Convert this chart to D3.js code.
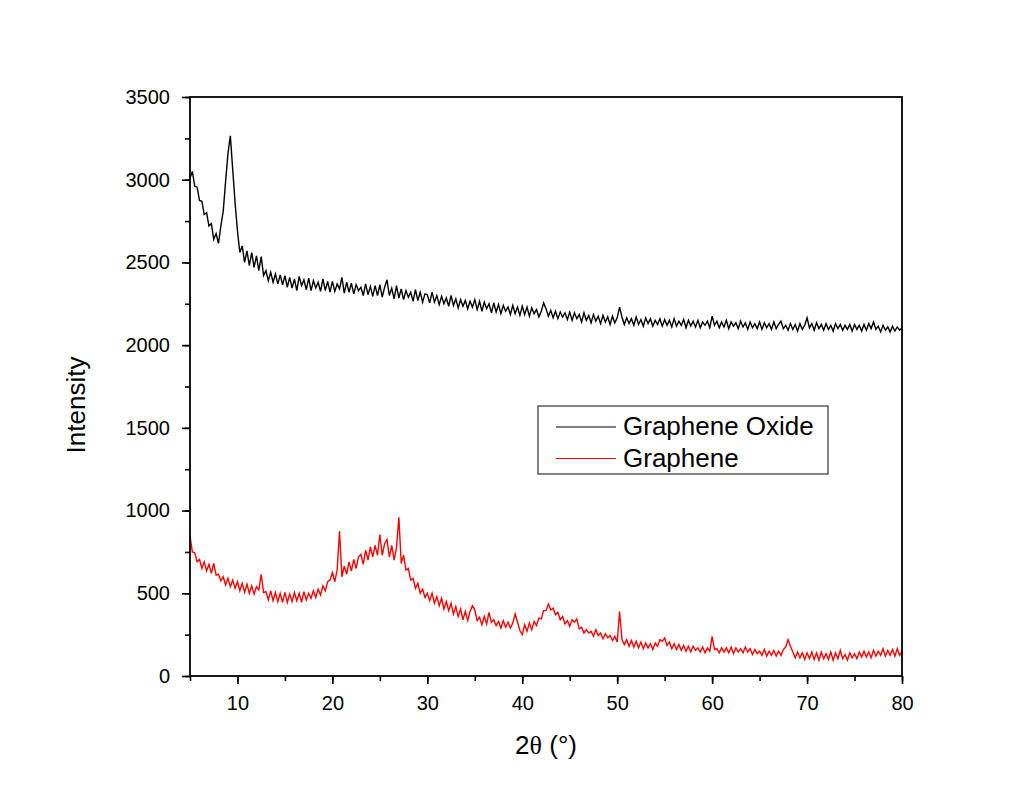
<!DOCTYPE html>
<html>
<head>
<meta charset="utf-8">
<script src="https://cdn.jsdelivr.net/npm/d3@7"></script>
<style>
  body { margin: 0; background: #fff; }
  svg { display: block; font-family: "Liberation Sans", Arial, sans-serif; }
</style>
</head>
<body>
<div id="chart"></div>
<script>
// XRD patterns, 2θ from 5° to 80° sampled every 0.25°
var thetaStart = 5, thetaStep = 0.25;

var goIntensity = [
  3010, 3050, 2960, 2955, 2875, 2870, 2790, 2800, 2720, 2735, 2640, 2675, 2615, 2720, 2810, 2990, 3160, 3265, 3060, 2860,
  2690, 2560, 2600, 2500, 2570, 2480, 2560, 2470, 2540, 2450, 2535, 2420, 2450, 2390, 2440, 2380, 2430, 2370, 2425, 2365,
  2420, 2350, 2410, 2345, 2400, 2330, 2415, 2360, 2395, 2335, 2405, 2330, 2390, 2345, 2380, 2325, 2400, 2330, 2385, 2320,
  2385, 2325, 2370, 2340, 2410, 2315, 2380, 2320, 2375, 2310, 2365, 2330, 2350, 2300, 2370, 2305, 2355, 2295, 2360, 2300,
  2365, 2290, 2350, 2395, 2300, 2345, 2280, 2360, 2285, 2340, 2275, 2330, 2290, 2320, 2265, 2335, 2270, 2320, 2260, 2310,
  2305, 2255, 2320, 2260, 2300, 2245, 2295, 2250, 2285, 2235, 2300, 2240, 2280, 2225, 2275, 2235, 2270, 2220, 2265, 2230,
  2275, 2215, 2265, 2205, 2260, 2220, 2250, 2195, 2255, 2200, 2245, 2190, 2240, 2205, 2230, 2185, 2240, 2190, 2230, 2180,
  2235, 2185, 2230, 2175, 2225, 2190, 2215, 2170, 2205, 2255, 2220, 2175, 2210, 2165, 2205, 2160, 2200, 2170, 2195, 2155,
  2200, 2150, 2195, 2160, 2185, 2140, 2195, 2150, 2180, 2135, 2185, 2145, 2175, 2130, 2180, 2140, 2170, 2125, 2175, 2135,
  2165, 2230, 2170, 2125, 2165, 2130, 2160, 2120, 2170, 2125, 2155, 2115, 2165, 2130, 2160, 2115, 2150, 2125, 2160, 2115,
  2155, 2120, 2150, 2110, 2160, 2115, 2145, 2120, 2155, 2105, 2150, 2115, 2145, 2110, 2150, 2105, 2140, 2120, 2145, 2105,
  2175, 2120, 2145, 2105, 2140, 2110, 2150, 2100, 2140, 2115, 2135, 2100, 2145, 2110, 2135, 2095, 2140, 2105, 2130, 2100,
  2140, 2095, 2135, 2105, 2130, 2095, 2140, 2100, 2125, 2145, 2100, 2120, 2090, 2130, 2095, 2125, 2085, 2130, 2095, 2120,
  2165, 2105, 2130, 2090, 2135, 2100, 2125, 2090, 2130, 2095, 2120, 2085, 2130, 2100, 2125, 2090, 2120, 2095, 2125, 2085,
  2125, 2095, 2120, 2085, 2125, 2090, 2130, 2100, 2140, 2095, 2115, 2080, 2120, 2090, 2110, 2080, 2115, 2085, 2110, 2090,
  2105
];

var grapheneIntensity = [
  845, 750, 745, 690, 705, 650, 690, 635, 675, 620, 680, 610, 615, 575, 600, 550, 590, 540, 580, 530,
  570, 515, 560, 505, 555, 500, 545, 495, 540, 520, 615, 505, 510, 460, 515, 455, 505, 450, 500, 445,
  505, 445, 495, 450, 505, 455, 500, 445, 510, 460, 500, 470, 515, 475, 525, 490, 545, 515, 570, 580,
  625, 570, 640, 875, 600, 665, 615, 690, 635, 705, 650, 720, 735, 675, 760, 700, 780, 720, 790, 730,
  855, 730, 800, 825, 720, 790, 700, 775, 960, 680, 730, 640, 650, 580, 590, 530, 560, 500, 525, 475,
  500, 455, 500, 440, 480, 425, 470, 405, 450, 395, 440, 375, 420, 360, 405, 340, 390, 335, 390, 425,
  400, 335, 355, 310, 360, 315, 385, 325, 340, 305, 330, 290, 335, 295, 325, 290, 320, 375, 325, 275,
  250, 310, 270, 320, 280, 330, 305, 350, 345, 395, 395, 435, 400, 410, 370, 385, 340, 360, 315, 335,
  300, 340, 325, 345, 285, 295, 260, 280, 260, 270, 240, 280, 245, 260, 225, 255, 230, 245, 215, 240,
  205, 390, 220, 190, 220, 180, 215, 175, 210, 170, 205, 165, 200, 170, 195, 160, 200, 180, 220, 210,
  230, 185, 205, 165, 195, 160, 190, 155, 185, 150, 180, 145, 180, 155, 170, 145, 175, 140, 170, 150,
  240, 160, 165, 140, 170, 145, 170, 140, 175, 135, 170, 145, 165, 140, 175, 145, 165, 130, 160, 135,
  150, 125, 160, 120, 150, 125, 155, 120, 150, 125, 160, 175, 220, 180, 145, 110, 145, 110, 140, 100,
  140, 105, 145, 100, 140, 95, 145, 105, 135, 100, 145, 95, 140, 105, 155, 105, 130, 95, 140, 110,
  135, 105, 145, 115, 150, 115, 145, 110, 155, 120, 150, 125, 165, 120, 155, 125, 160, 120, 165, 125,
  150
];

var seriesNames = ["Graphene Oxide", "Graphene"];
var seriesColors = ["#000000", "#ff0000"];
var xTicks = [10, 20, 30, 40, 50, 60, 70, 80];
var yTicks = [0, 500, 1000, 1500, 2000, 2500, 3000, 3500];

var margin = { top: 97, right: 132, bottom: 133, left: 190 },
    width = 1034 - margin.left - margin.right,
    height = 809 - margin.top - margin.bottom;

var svg = d3.select("#chart")
    .append("svg")
    .attr("width", 1034)
    .attr("height", 809)
    .append("g")
    .attr("transform", "translate(" + margin.left + "," + margin.top + ")");

var x = d3.scaleLinear().domain([5, 80]).range([0, width]);
var y = d3.scaleLinear().domain([0, 3500]).range([height, 0]);

// minor ticks first, majors on top
svg.append("g")
    .attr("transform", "translate(0," + height + ")")
    .call(d3.axisBottom(x).tickValues(d3.range(5, 81, 5)).tickSize(5).tickFormat(""))
    .call(g => g.select(".domain").remove());
svg.append("g")
    .call(d3.axisLeft(y).tickValues(d3.range(0, 3501, 250)).tickSize(5).tickFormat(""))
    .call(g => g.select(".domain").remove());

var xAxis = svg.append("g")
    .attr("transform", "translate(0," + height + ")")
    .call(d3.axisBottom(x).tickValues(xTicks).tickSize(8).tickPadding(12).tickFormat(d3.format("d")));
var yAxis = svg.append("g")
    .call(d3.axisLeft(y).tickValues(yTicks).tickSize(8).tickPadding(12).tickFormat(d3.format("d")));

[xAxis, yAxis].forEach(function(a) {
    a.select(".domain").remove();
    a.selectAll("text").style("font-size", "20px").attr("fill", "#000")
        .style("font-family", "'Liberation Sans', Arial, sans-serif");
});
svg.selectAll(".tick line").attr("stroke", "#000").attr("stroke-width", 1.6);

var line = d3.line()
    .x(function(d, i) { return x(thetaStart + i * thetaStep); })
    .y(function(d) { return y(d); });

svg.append("path")
    .datum(goIntensity)
    .attr("fill", "none")
    .attr("stroke", seriesColors[0])
    .attr("stroke-width", 1.4)
    .attr("d", line);

svg.append("path")
    .datum(grapheneIntensity)
    .attr("fill", "none")
    .attr("stroke", seriesColors[1])
    .attr("stroke-width", 1.4)
    .attr("d", line);

// frame
svg.append("rect")
    .attr("width", width)
    .attr("height", height)
    .attr("fill", "none")
    .attr("stroke", "#000")
    .attr("stroke-width", 1.8);

// axis titles
svg.append("text")
    .attr("transform", "translate(" + (85 - margin.left) + "," + (405 - margin.top) + ")rotate(-90)")
    .attr("text-anchor", "middle")
    .style("font-size", "26px")
    .text("Intensity");

var xt = svg.append("text")
    .attr("x", width / 2)
    .attr("y", 754 - margin.top)
    .attr("text-anchor", "middle")
    .style("font-size", "26px");
xt.append("tspan").text("2");
xt.append("tspan").style("font-family", "'Liberation Serif', 'Times New Roman', serif").text("θ");
xt.append("tspan").text(" (°)");

// legend
var legend = svg.append("g")
    .attr("transform", "translate(" + (538 - margin.left) + "," + (406 - margin.top) + ")");
legend.append("rect")
    .attr("width", 290)
    .attr("height", 68)
    .attr("fill", "#fff")
    .attr("stroke", "#333")
    .attr("stroke-width", 1.2);

var items = legend.selectAll(".item")
    .data(seriesNames)
    .enter().append("g")
    .attr("class", "item")
    .attr("transform", function(d, i) { return "translate(0," + (21 + i * 31.5) + ")"; });
items.append("line")
    .attr("x1", 18).attr("x2", 78)
    .attr("stroke", function(d, i) { return seriesColors[i]; })
    .attr("stroke-width", 1.2);
items.append("text")
    .attr("x", 85)
    .attr("y", 8)
    .style("font-size", "26px")
    .text(function(d) { return d; });
</script>
</body>
</html>
